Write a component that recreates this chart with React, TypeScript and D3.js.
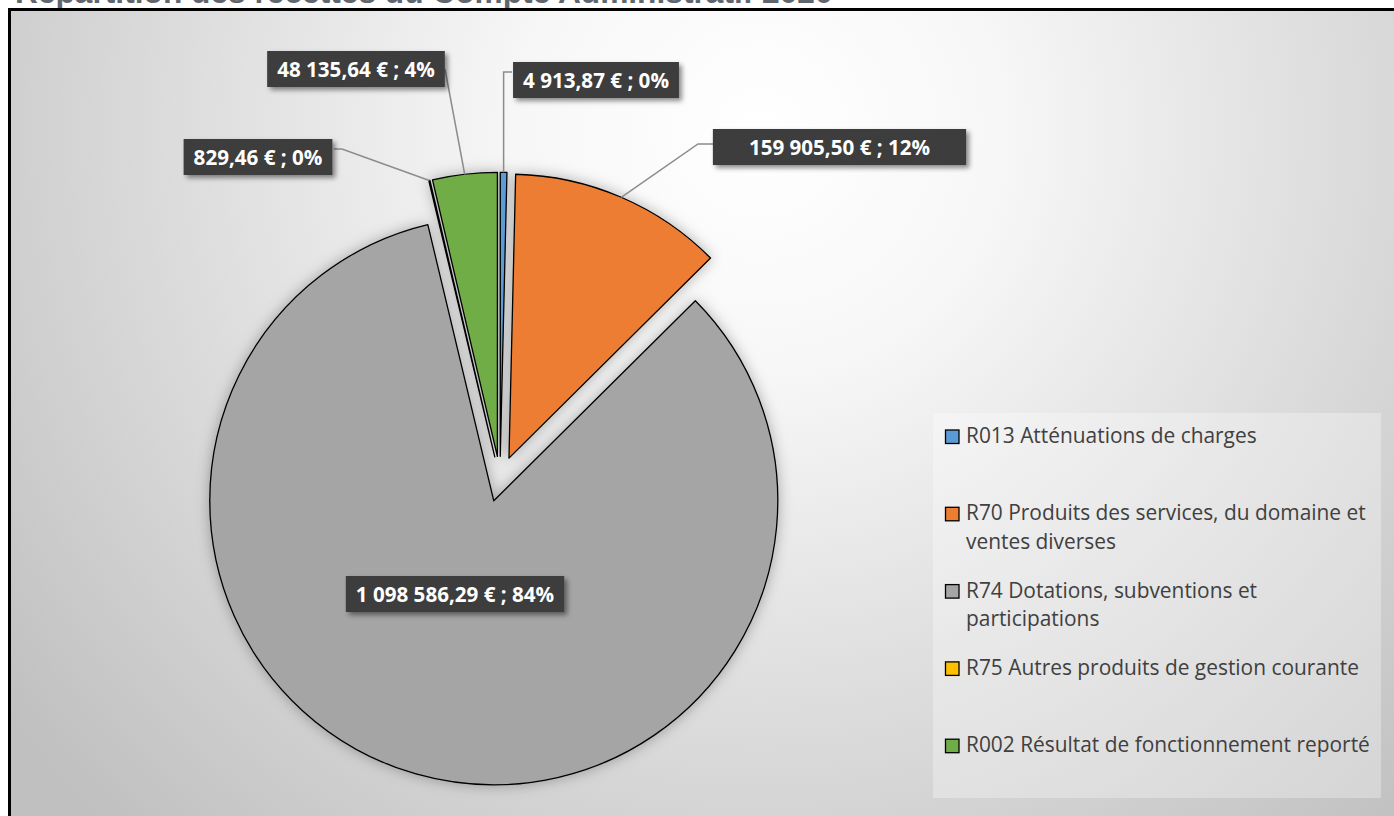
import React, { useEffect, useRef } from "react";
import * as d3 from "d3";

// ---------- data ----------
const categories = [
  "R013 Atténuations de charges",
  "R70 Produits des services, du domaine et ventes diverses",
  "R74 Dotations, subventions et participations",
  "R75 Autres produits de gestion courante",
  "R002 Résultat de fonctionnement reporté",
];
const legendLines = [
  ["R013 Atténuations de charges"],
  ["R70 Produits des services, du domaine et", "ventes diverses"],
  ["R74 Dotations, subventions et", "participations"],
  ["R75 Autres produits de gestion courante"],
  ["R002 Résultat de fonctionnement reporté"],
];
const values = [4913.87, 159905.5, 1098586.29, 829.46, 48135.64];
const colors = ["#5B9BD5", "#ED7D31", "#A5A5A5", "#FFC000", "#70AD47"];
const titleText = "Répartition des recettes du Compte Administratif 2020";

// ---------- layout ----------
const W = 1394;
const H = 816;
const CX = 500;
const CY = 479;
const R = 284;
const EXPLODE = 22.7;

// label box centre, horizontal padding + leader route (points after the arc anchor)
type LabelPos = {
  x: number;
  y: number;
  pad: number;
  inside?: boolean;
  route: Array<[number | null, number]>;
};
const labelLayout: LabelPos[] = [
  { x: 596, y: 80, pad: 10, route: [[null, 72], [512, 72]] },
  { x: 839.5, y: 147, pad: 36, route: [[698, 144], [713, 144]] },
  { x: 455, y: 594, pad: 10, inside: true, route: [] },
  { x: 258, y: 157, pad: 10, route: [[342, 149], [334, 149]] },
  { x: 356, y: 69, pad: 10, route: [[445, 69]] },
];

const legendBox = { x: 933, y: 413, w: 448, h: 385 };
const legendFirstBaseline = 443;
const legendStep = 77.3;
const legendLineHeight = 28.7;

const fr = d3.formatLocale({
  decimal: ",",
  thousands: "\u00a0",
  grouping: [3],
  currency: ["", "\u00a0€"],
});
const fmtMoney = fr.format("$,.2f");

export default function App() {
  const ref = useRef<SVGSVGElement | null>(null);

  useEffect(() => {
    const svg = d3.select(ref.current);
    svg.selectAll("*").remove();

    const defs = svg.append("defs");
    const grad = defs
      .append("radialGradient")
      .attr("id", "bg")
      .attr("gradientUnits", "userSpaceOnUse")
      .attr("cx", 760)
      .attr("cy", 130)
      .attr("r", 950);
    grad.append("stop").attr("offset", 0).attr("stop-color", "#ffffff");
    grad.append("stop").attr("offset", 0.25).attr("stop-color", "#f7f7f7");
    grad.append("stop").attr("offset", 1).attr("stop-color", "#c0c0c0");

    const pf = defs
      .append("filter")
      .attr("id", "pieShadow")
      .attr("x", "-20%")
      .attr("y", "-20%")
      .attr("width", "140%")
      .attr("height", "140%");
    pf.append("feDropShadow")
      .attr("dx", 0)
      .attr("dy", 0)
      .attr("stdDeviation", 7)
      .attr("flood-color", "#000")
      .attr("flood-opacity", 0.3);

    const bf = defs
      .append("filter")
      .attr("id", "boxShadow")
      .attr("x", "-20%")
      .attr("y", "-40%")
      .attr("width", "140%")
      .attr("height", "180%");
    bf.append("feDropShadow")
      .attr("dx", 3)
      .attr("dy", 3)
      .attr("stdDeviation", 2.5)
      .attr("flood-color", "#000")
      .attr("flood-opacity", 0.45);

    // title (cut off at the top, as in the source)
    svg
      .append("text")
      .attr("x", 15)
      .attr("y", 3)
      .attr("font-family", "'Liberation Sans', Arial, sans-serif")
      .attr("font-weight", "bold")
      .attr("font-size", 31.7)
      .attr("fill", "#5f6670")
      .text(titleText);

    // chart area
    svg
      .append("rect")
      .attr("x", 9)
      .attr("y", 9)
      .attr("width", W - 9)
      .attr("height", H - 9)
      .attr("fill", "url(#bg)");
    svg
      .append("path")
      .attr("d", `M9.5,${H} L9.5,9.5 L${W},9.5`)
      .attr("fill", "none")
      .attr("stroke", "#000")
      .attr("stroke-width", 3);

    // pie
    const total = d3.sum(values);
    const pie = d3
      .pie<number>()
      .sort(null)
      .value((d) => d)
      .startAngle(0)
      .endAngle(2 * Math.PI);
    const arcs = pie(values);
    const arc = d3.arc<d3.PieArcDatum<number>>().innerRadius(0).outerRadius(R);

    const offset = (a: d3.PieArcDatum<number>) => {
      const m = (a.startAngle + a.endAngle) / 2;
      return [Math.sin(m) * EXPLODE, -Math.cos(m) * EXPLODE];
    };

    const pg = svg
      .append("g")
      .attr("transform", `translate(${CX},${CY})`)
      .attr("filter", "url(#pieShadow)");
    pg.selectAll("path")
      .data(arcs)
      .join("path")
      .attr("transform", (d) => {
        const [ox, oy] = offset(d);
        return `translate(${ox},${oy})`;
      })
      .attr("d", arc as any)
      .attr("fill", (_, i) => colors[i])
      .attr("stroke", "#000")
      .attr("stroke-width", 1.3)
      .attr("stroke-linejoin", "round");

    // labels
    const lg = svg.append("g");
    const fontFamily = "'Open Sans', 'Noto Sans', sans-serif";
    arcs.forEach((a, i) => {
      const lay = labelLayout[i];
      const m = (a.startAngle + a.endAngle) / 2;
      const [ox, oy] = offset(a);
      const ax = CX + ox + Math.sin(m) * R;
      const ay = CY + oy - Math.cos(m) * R;
      if (!lay.inside) {
        const pts: Array<[number, number]> = [[ax, ay]];
        lay.route.forEach(([px, py]) => pts.push([px === null ? ax : px, py]));
        lg.append("path")
          .attr("d", d3.line()(pts) as string)
          .attr("fill", "none")
          .attr("stroke", "#8c8c8c")
          .attr("stroke-width", 1.5);
      }
    });
    arcs.forEach((a, i) => {
      const lay = labelLayout[i];
      const pct = Math.round((a.value / total) * 100) + "%";
      const txt = `${fmtMoney(a.value)} ; ${pct}`;
      const g = lg.append("g");
      const rect = g.append("rect").attr("fill", "#3d3d3d").attr("filter", "url(#boxShadow)");
      const t = g
        .append("text")
        .attr("x", lay.x)
        .attr("y", lay.y + 7.5)
        .attr("text-anchor", "middle")
        .attr("font-family", fontFamily)
        .attr("font-weight", "bold")
        .attr("font-size", 20.6)
        .attr("fill", "#ffffff")
        .text(txt);
      const bw = (t.node() as SVGTextElement).getComputedTextLength() + 2 * lay.pad;
      const bh = 36;
      rect
        .attr("x", lay.x - bw / 2)
        .attr("y", lay.y - bh / 2)
        .attr("width", bw)
        .attr("height", bh);
    });

    // legend
    const leg = svg.append("g");
    leg
      .append("rect")
      .attr("x", legendBox.x)
      .attr("y", legendBox.y)
      .attr("width", legendBox.w)
      .attr("height", legendBox.h)
      .attr("fill", "rgba(255,255,255,0.3)");
    categories.forEach((_, i) => {
      const base = legendFirstBaseline + i * legendStep;
      leg
        .append("rect")
        .attr("x", 945.5)
        .attr("y", base - 13)
        .attr("width", 13.5)
        .attr("height", 13.5)
        .attr("fill", colors[i])
        .attr("stroke", "#000")
        .attr("stroke-width", 1.3);
      legendLines[i].forEach((line, j) => {
        leg
          .append("text")
          .attr("x", 966)
          .attr("y", base + j * legendLineHeight)
          .attr("font-family", fontFamily)
          .attr("font-size", 20.9)
          .attr("fill", "#404040")
          .text(line);
      });
    });
  }, []);

  return (
    <svg
      ref={ref}
      width={W}
      height={H}
      style={{ position: "absolute", left: 0, top: 0, display: "block" }}
    />
  );
}
